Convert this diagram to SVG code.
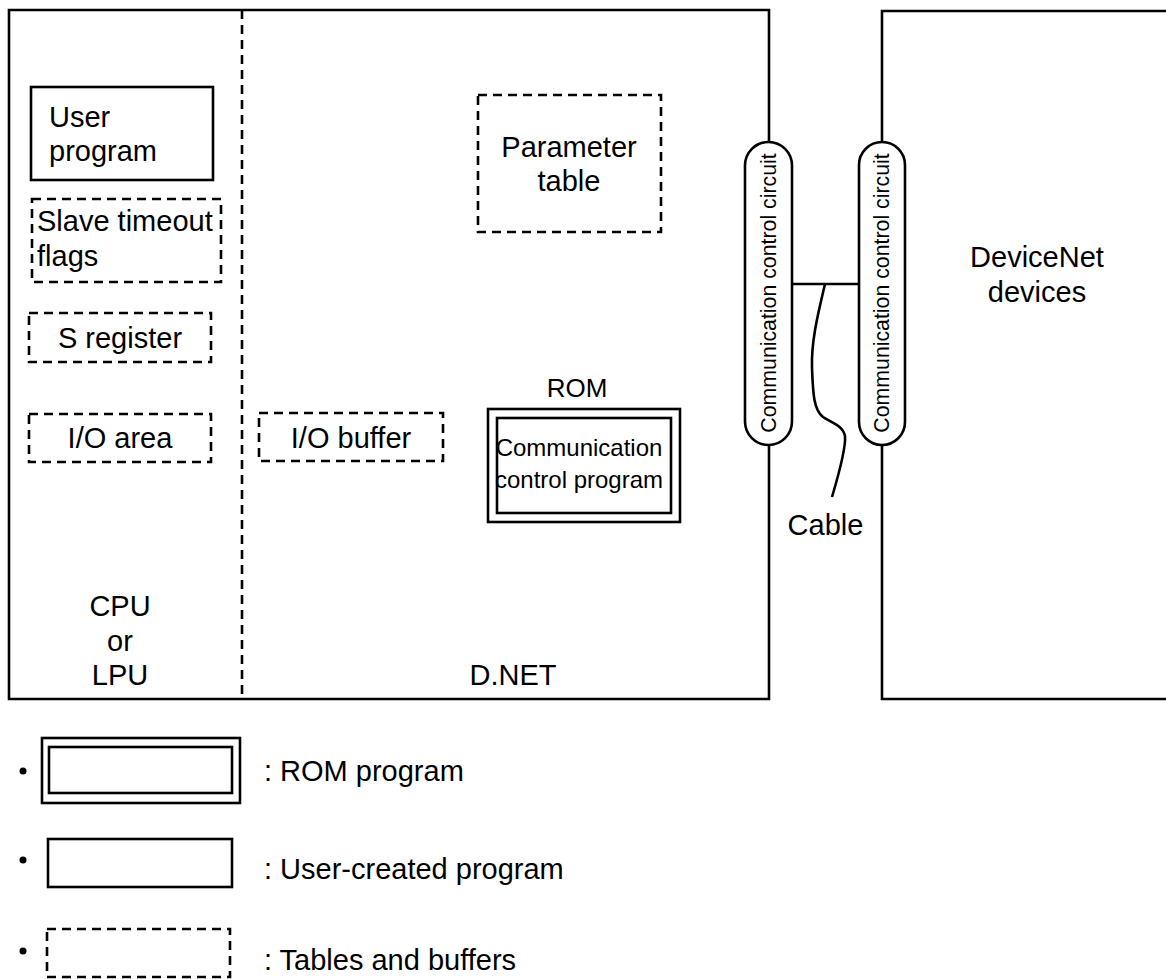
<svg xmlns="http://www.w3.org/2000/svg" width="1166" height="979" viewBox="0 0 1166 979">
<style>
.ln{fill:none;stroke:#000;stroke-width:2.6}
.dash{fill:none;stroke:#000;stroke-width:2.6;stroke-dasharray:9 6}
.pill{fill:#fff;stroke:#000;stroke-width:2.6}
text{font-family:"Liberation Sans",Arial,sans-serif;fill:#000}
.t{font-size:29px}
.m{text-anchor:middle}
.s{font-size:24px}
.v{font-size:21.3px}
</style>
<rect width="1166" height="979" fill="#fff"/>
<g id="dnet-unit">
<path class="ln" d="M769,142 V10 H9 V699 H769 V445"/>
<line class="dash" x1="242" y1="10" x2="242" y2="699"/>
<text class="t m" x="120" y="616">CPU</text>
<text class="t m" x="120" y="651">or</text>
<text class="t m" x="120" y="685">LPU</text>
<text class="t m" x="513" y="685">D.NET</text>
</g>
<g id="devicenet-devices">
<path class="ln" d="M882,142 V11 H1170 M1170,699 H882 V445"/>
<text class="t m" x="1037" y="267">DeviceNet</text>
<text class="t m" x="1037" y="302">devices</text>
</g>
<g id="user-program">
<rect class="ln" x="31" y="87" width="182" height="93"/>
<text class="t" x="49" y="127">User</text>
<text class="t" x="49" y="161">program</text>
</g>
<g id="slave-timeout-flags">
<rect class="dash" x="32" y="199" width="189" height="83"/>
<text class="t" x="37" y="231">Slave timeout</text>
<text class="t" x="37" y="266">flags</text>
</g>
<g id="s-register">
<rect class="dash" x="29" y="313" width="182" height="49"/>
<text class="t m" x="120" y="348">S register</text>
</g>
<g id="io-area">
<rect class="dash" x="29" y="414" width="182" height="48"/>
<text class="t m" x="120" y="448">I/O area</text>
</g>
<g id="io-buffer">
<rect class="dash" x="259" y="413" width="184" height="48"/>
<text class="t m" x="351" y="448">I/O buffer</text>
</g>
<g id="parameter-table">
<rect class="dash" x="478" y="95" width="183" height="137"/>
<text class="t m" x="569" y="157">Parameter</text>
<text class="t m" x="569" y="191">table</text>
</g>
<g id="rom">
<text class="m" style="font-size:26px" x="577" y="397">ROM</text>
<rect class="ln" x="488" y="409" width="192" height="113"/>
<rect class="ln" x="497" y="418" width="174" height="95"/>
<text class="s m" x="579" y="456">Communication</text>
<text class="s m" x="579" y="488">control program</text>
</g>
<g id="circuit-left">
<rect class="pill" x="745" y="142" width="47" height="303" rx="23.5" ry="23.5"/>
<text class="v m" x="768.5" y="293" dominant-baseline="central" transform="rotate(-90 768.5 293)">Communication control circuit</text>
</g>
<g id="circuit-right">
<rect class="pill" x="859" y="142" width="46" height="303" rx="23" ry="23"/>
<text class="v m" x="882" y="293" dominant-baseline="central" transform="rotate(-90 882 293)">Communication control circuit</text>
</g>
<g id="connectors">
<line class="ln" x1="792" y1="284" x2="859" y2="284"/>
<path class="ln" d="M825,284 C819,310 811,340 812,368 C813,395 814,410 823,417 C830,422 843,425 845,436 C846,446 840,470 832,497"/>
</g>
<g id="cable-label">
<text class="t m" x="825.5" y="535">Cable</text>
</g>
<g id="legend">
<circle cx="23" cy="771" r="3.5"/>
<rect class="ln" x="42" y="738" width="198" height="65"/>
<rect class="ln" x="49" y="747" width="183" height="46"/>
<text class="t" x="264" y="781">: ROM program</text>
<circle cx="23" cy="860" r="3.5"/>
<rect class="ln" x="48" y="839" width="184" height="48"/>
<text class="t" x="264" y="879">: User-created program</text>
<circle cx="23" cy="951" r="3.5"/>
<rect class="dash" x="47" y="929" width="183" height="48"/>
<text class="t" x="264" y="970">: Tables and buffers</text>
</g>
</svg>
